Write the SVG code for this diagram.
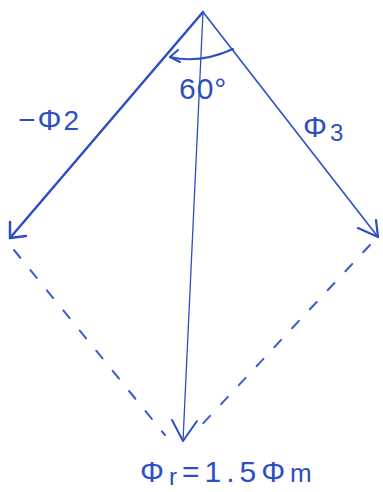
<svg xmlns="http://www.w3.org/2000/svg" width="383" height="492" viewBox="0 0 383 492">
<style>
.ph{stroke:#2d4fbf;fill:none;stroke-linecap:round;stroke-linejoin:round}
.lbl{fill:#2d4fbf;font-family:"Liberation Sans","DejaVu Sans",sans-serif;font-size:30px}
.dash{stroke:#3a5ccc;fill:none;stroke-width:2;stroke-dasharray:10 16;stroke-linecap:round}
</style>
<rect width="383" height="492" fill="#ffffff"/>
<g id="connectors">
<line id="phi2" class="ph" x1="203" y1="12" x2="10" y2="238" stroke-width="2.5"/>
<polyline class="ph" points="10,222 10,238 26,236" stroke-width="2.5"/>
<line id="phi3" class="ph" x1="203" y1="12" x2="378" y2="237" stroke-width="1.6"/>
<polyline class="ph" points="358,228 378,237 376,220" stroke-width="2.2"/>
<line id="phir" class="ph" x1="203" y1="12" x2="183" y2="441" stroke-width="1.3"/>
<polyline class="ph" points="172,420 183,441 197,421" stroke-width="2"/>
<line class="dash" x1="14" y1="250" x2="165" y2="435"/>
<line class="dash" x1="370" y1="245" x2="195" y2="432"/>
<path class="ph" d="M170,57 Q200,64 233,49" stroke-width="2"/>
<polyline class="ph" points="178,50 170,57 180,62" stroke-width="2"/>
</g>
<g id="labels">
<text class="lbl" x="18" y="130" letter-spacing="2">−Φ<tspan font-size="28">2</tspan></text>
<text class="lbl" x="303" y="137" letter-spacing="3">Φ<tspan font-size="24" dy="4">3</tspan></text>
<text class="lbl" x="179" y="99" font-size="25" letter-spacing="1">60°</text>
<text class="lbl" x="140" y="482" font-size="33" letter-spacing="5">Φ<tspan font-size="24" dy="3">r</tspan><tspan dy="-3">=1.5Φ</tspan><tspan font-size="26">m</tspan></text>
</g>
</svg>
